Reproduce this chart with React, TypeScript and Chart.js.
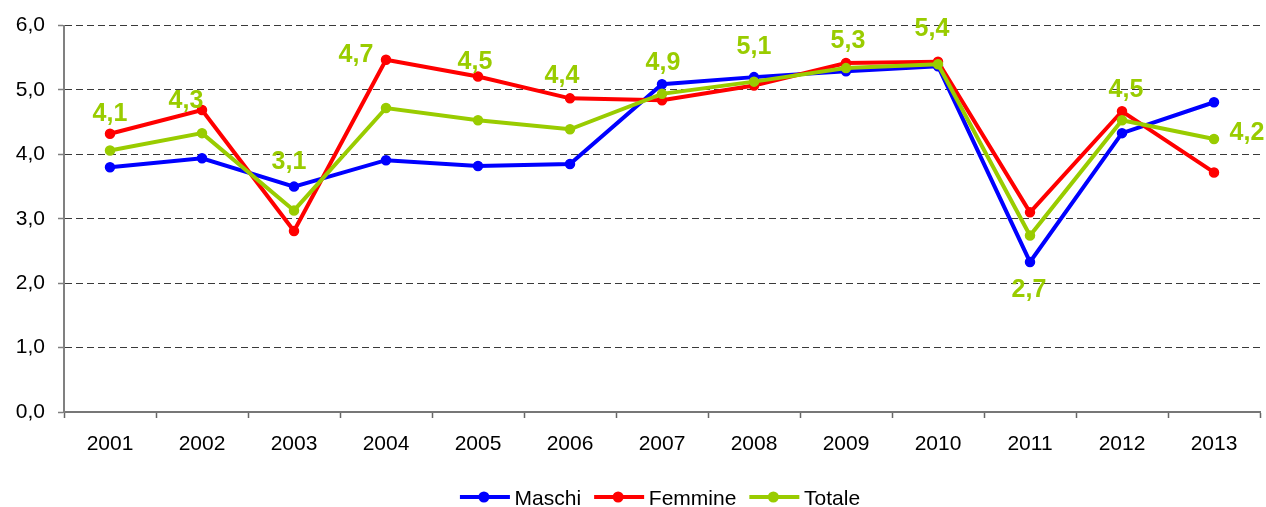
import React, { useEffect, useRef } from "react";
import { Chart, registerables } from "chart.js";

Chart.register(...registerables);

const YEARS = ["2001", "2002", "2003", "2004", "2005", "2006", "2007", "2008", "2009", "2010", "2011", "2012", "2013"];
const MASCHI = [3.80, 3.94, 3.50, 3.91, 3.82, 3.85, 5.09, 5.20, 5.29, 5.37, 2.33, 4.33, 4.81];
const FEMMINE = [4.32, 4.69, 2.81, 5.47, 5.21, 4.87, 4.84, 5.07, 5.42, 5.44, 3.10, 4.67, 3.72];
const TOTALE = [4.06, 4.33, 3.13, 4.72, 4.53, 4.39, 4.94, 5.13, 5.34, 5.40, 2.74, 4.53, 4.24];
const Y_TICKS = [0, 1, 2, 3, 4, 5, 6];

// label placement (px offsets from each Totale point)
const LABEL_OFFSETS: [number, number][] = [
  [0, -39], [-16, -34], [-5, -50], [-30, -55], [-3, -60], [-8, -55], [1, -33],
  [0, -37], [2, -29], [-6, -37], [-1, 52], [4, -32], [33, -8],
];

const FONT = '"Liberation Sans", Arial, sans-serif';
const BLUE = "#0000FF";
const RED = "#FF0000";
const GREEN = "#99CC00";
const fmt = (v: number) => v.toFixed(1).replace(".", ",");

const totaleLabels = {
  id: "totaleLabels",
  afterDatasetsDraw(chart: any) {
    const ctx = chart.ctx;
    const meta = chart.getDatasetMeta(2);
    ctx.save();
    ctx.font = `bold 25px ${FONT}`;
    ctx.fillStyle = GREEN;
    ctx.textAlign = "center";
    ctx.textBaseline = "alphabetic";
    meta.data.forEach((pt: any, i: number) => {
      const [dx, dy] = LABEL_OFFSETS[i];
      ctx.fillText(fmt(TOTALE[i]), pt.x + dx, pt.y + dy + 9);
    });
    ctx.restore();
  },
};

const bottomLegend = {
  id: "bottomLegend",
  afterDraw(chart: any) {
    const ctx = chart.ctx;
    const ds = chart.data.datasets;
    ctx.save();
    ctx.font = `21px ${FONT}`;
    const lineW = 50;
    const textGap = 4.7;
    const itemGap = 13;
    const widths = ds.map((d: any) => lineW + textGap + ctx.measureText(d.label).width);
    const total = widths.reduce((a: number, b: number) => a + b, 0) + itemGap * (ds.length - 1);
    let x = 660 - total / 2;
    const cy = 497;
    ds.forEach((d: any, i: number) => {
      ctx.strokeStyle = d.borderColor;
      ctx.lineWidth = 4;
      ctx.beginPath();
      ctx.moveTo(x, cy);
      ctx.lineTo(x + lineW, cy);
      ctx.stroke();
      ctx.fillStyle = d.borderColor;
      ctx.beginPath();
      ctx.arc(x + 24, cy, 5.5, 0, Math.PI * 2);
      ctx.fill();
      ctx.fillStyle = "#000";
      ctx.textAlign = "left";
      ctx.textBaseline = "alphabetic";
      ctx.fillText(d.label, x + lineW + textGap, cy + 8);
      x += widths[i] + itemGap;
    });
    ctx.restore();
  },
};

export default function App() {
  const ref = useRef<HTMLCanvasElement | null>(null);

  useEffect(() => {
    document.body.style.margin = "0";
    const canvas = ref.current;
    if (!canvas) return;
    const mk = (label: string, data: number[], color: string, order: number) => ({
      label,
      data,
      borderColor: color,
      backgroundColor: color,
      borderWidth: 4,
      pointRadius: 4.5,
      pointBorderWidth: 1.5,
      pointBackgroundColor: color,
      pointBorderColor: color,
      tension: 0,
      order,
    });
    const chart = new Chart(canvas, {
      type: "line",
      data: {
        labels: YEARS,
        datasets: [
          mk("Maschi", MASCHI, BLUE, 2),
          mk("Femmine", FEMMINE, RED, 1),
          mk("Totale", TOTALE, GREEN, 0),
        ],
      },
      options: {
        animation: false,
        responsive: true,
        maintainAspectRatio: false,
        layout: { padding: { top: 24, right: 6, left: 0, bottom: 0 } },
        plugins: {
          legend: { display: false },
          tooltip: { enabled: false },
          title: { display: false },
        },
        scales: {
          x: {
            type: "category",
            offset: true,
            grid: {
              offset: true,
              drawOnChartArea: false,
              drawTicks: true,
              tickLength: 6,
              tickColor: "#666666",
              tickWidth: 1.5,
            },
            border: { display: true, color: "#777777", width: 2 },
            ticks: {
              autoSkip: false,
              maxRotation: 0,
              color: "#000",
              font: { family: FONT, size: 21 },
              padding: 14,
            },
            afterFit: (scale: any) => {
              scale.height = 95;
            },
          },
          y: {
            min: 0,
            max: 6,
            afterBuildTicks: (scale: any) => {
              scale.ticks = Y_TICKS.map((v) => ({ value: v }));
            },
            grid: {
              color: (c: any) => (c.tick && c.tick.value === 0 ? "rgba(0,0,0,0)" : "#3a3a3a"),
              lineWidth: 1,
              drawTicks: true,
              tickLength: 6,
              tickColor: "#808080",
              tickWidth: 1.5,
              tickBorderDash: [],
            },
            border: { display: true, color: "#808080", width: 2, dash: [7, 4] },
            ticks: {
              color: "#000",
              font: { family: FONT, size: 21 },
              padding: 13,
              callback: (v: any) => fmt(Number(v)),
            },
            afterFit: (scale: any) => {
              scale.width = 64;
            },
          },
        },
      },
      plugins: [totaleLabels, bottomLegend],
    } as any);
    return () => chart.destroy();
  }, []);

  return (
    <div style={{ width: 1266, height: 507, position: "relative" }}>
      <canvas ref={ref} />
    </div>
  );
}
